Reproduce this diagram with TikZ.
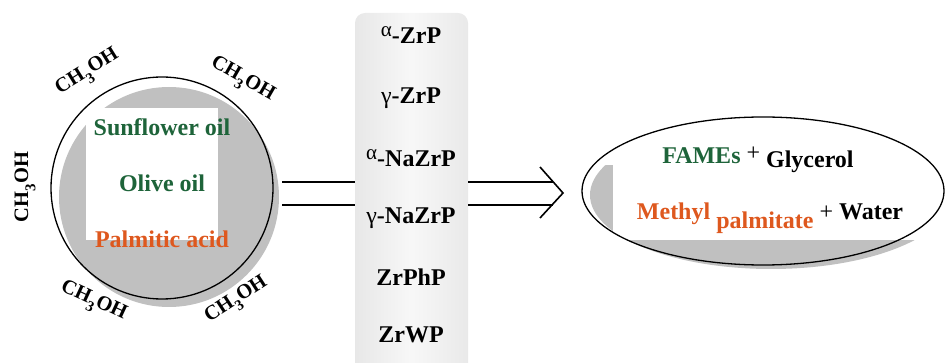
\documentclass[tikz,border=0pt]{standalone}
\usepackage{fontspec}
\setmainfont{Liberation Serif}
\usetikzlibrary{shapes.geometric}
\definecolor{oilgreen}{RGB}{30,100,58}
\definecolor{acidorange}{RGB}{222,88,30}
\definecolor{shadowgray}{RGB}{192,192,192}
\pgfdeclarehorizontalshading{catshade}{100bp}{
  color(0bp)=(black!21); color(10bp)=(black!13); color(50bp)=(black!3);
  color(90bp)=(black!12); color(100bp)=(black!19)}
\tikzset{
  lbl/.style={font=\fontsize{24}{26}\selectfont\bfseries, inner sep=0pt},
  meth/.style={font=\fontsize{20.5}{22}\selectfont\bfseries, inner sep=0pt},
  conn/.style={line width=1.6pt},
}
\newcommand{\meoh}{CH\raisebox{-0.35em}{\fontsize{15}{15}\selectfont 3}OH}
\newcommand{\alsup}{\raisebox{0.28em}{\mdseries\fontsize{21}{21}\selectfont α}}
\begin{document}
\begin{tikzpicture}[x=1pt,y=-1pt]
\useasboundingbox (0,0) rectangle (945,363);
% --- left circle
\fill[shadowgray] (169,197) circle [radius=110pt];
\fill[white] (86,108) rectangle (218,240);
\node[circle, draw, line width=1.3pt, minimum size=222pt, inner sep=0pt] (oil) at (162,188) {};
\node[lbl, text=oilgreen] (sun) at (162,127) {Sunflower oil};
\node[lbl, text=oilgreen] (olive) at (162,183) {Olive oil};
\node[lbl, text=acidorange] (palm) at (162,239) {Palmitic acid};
% methanol labels
\node[meth, rotate=32] (m1) at (88,73) {\meoh};
\node[meth, rotate=-30] (m2) at (242,80) {\meoh};
\node[meth, rotate=90] (m3) at (25,187) {\meoh};
\node[meth, rotate=-25] (m4) at (93,302) {\meoh};
\node[meth, rotate=33] (m5) at (237,301) {\meoh};
% --- catalyst box
\node[rounded corners=10pt, minimum width=113pt, minimum height=360pt, inner sep=0pt,
      shading=catshade] (cat) at (411.5,193) {};
\node[lbl] (c1) at (411,35) {\alsup-ZrP};
\node[lbl] (c2) at (411,98) {{\mdseries γ}-ZrP};
\node[lbl] (c3) at (411,158) {\alsup-NaZrP};
\node[lbl] (c4) at (411,218) {{\mdseries γ}-NaZrP};
\node[lbl] (c5) at (411,277) {ZrPhP};
\node[lbl] (c6) at (411,335) {ZrWP};
% --- double arrow
\coordinate (s1) at (282,182);
\coordinate (s2) at (282,205);
\coordinate (e1) at (553,182);
\coordinate (e2) at (553,205);
\coordinate (h1) at (540,167);
\coordinate (tip) at (563,193);
\coordinate (h2) at (540,218);
\draw[conn] (s1) -- (cat.west |- s1);
\draw[conn] (s2) -- (cat.west |- s2);
\draw[conn] (cat.east |- e1) -- (e1);
\draw[conn] (cat.east |- e2) -- (e2);
\draw[conn, line join=miter] (h1) -- (tip) -- (h2);
% --- product ellipse
\fill[shadowgray] (771,195) ellipse [x radius=181pt, y radius=74pt];
\fill[white] (580,110) rectangle (945,165);
\fill[white] (613,160) rectangle (945,240);
\node[ellipse, draw, line width=1.3pt, minimum width=362pt, minimum height=148pt, inner sep=0pt] (prod) at (763,191) {};
\node[lbl, anchor=base] (p1) at (758,164) {\textcolor{oilgreen}{FAMEs} \raisebox{0.15em}{\mdseries +} \raisebox{-0.15em}{Glycerol}};
\node[lbl, anchor=base] (p2) at (770,220) {\textcolor{acidorange}{Methyl \raisebox{-0.35em}{palmitate}} {\mdseries +} Water};
\end{tikzpicture}
\end{document}
